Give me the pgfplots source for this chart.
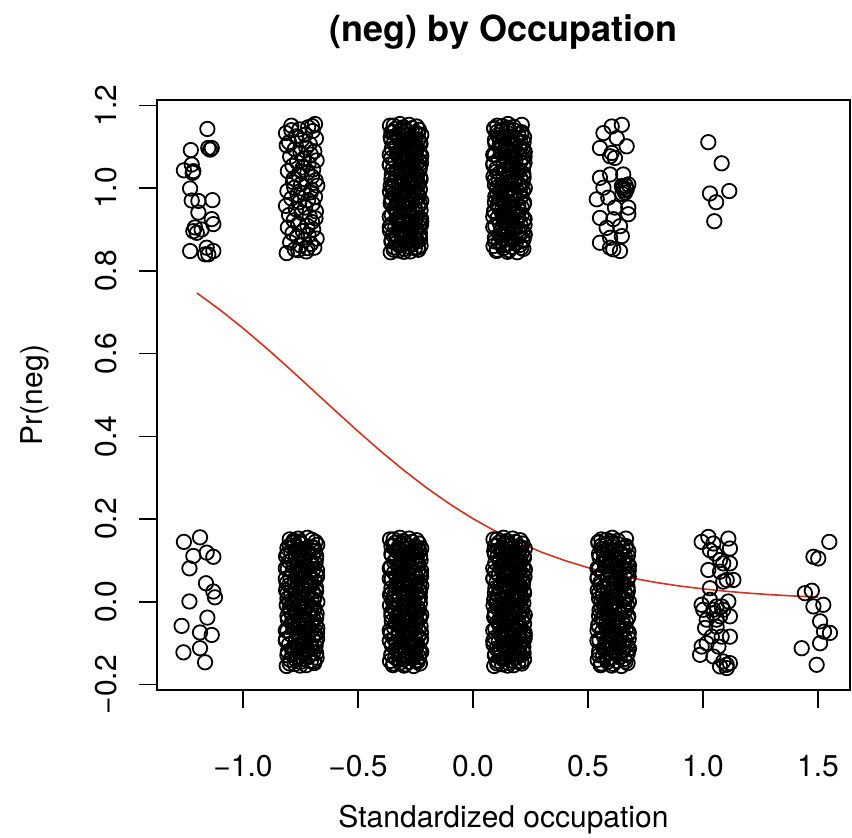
\documentclass[border=0pt]{standalone}
\usepackage{fontspec}
\setmainfont{TeX Gyre Heros}
\usepackage{pgfplots}
\pgfplotsset{compat=1.18}
\definecolor{fitred}{RGB}{208,52,32}
\begin{document}
\begin{tikzpicture}
\begin{axis}[
  scale only axis, width=346.5pt, height=295pt,
  xmin=-1.374, xmax=1.639, ymin=-0.213, ymax=1.213,
  clip=false,
  axis line style={line width=0.75pt, black},
  tick style={line width=0.75pt, black},
  tick align=outside, major tick length=9pt,
  xtick pos=lower, ytick pos=left,
  xtick={-1,-0.5,0,0.5,1,1.5},
  xticklabels={−1.0,−0.5,0.0,0.5,1.0,1.5},
  ytick={-0.2,0,0.2,0.4,0.6,0.8,1.0,1.2},
  yticklabels={−0.2,0.0,0.2,0.4,0.6,0.8,1.0,1.2},
  tick label style={font=\fontsize{15}{18}\selectfont},
  xticklabel style={anchor=base},
  xticklabel shift=34pt,
  yticklabel style={rotate=90, anchor=base},
  yticklabel shift=11pt,
  label style={font=\fontsize{15}{18}\selectfont},
  xlabel={Standardized occupation},
  ylabel={Pr(neg)},
  xlabel style={at={(axis description cs:0.5,-0.2203)}, anchor=center},
  ylabel style={at={(axis description cs:-0.176,0.5)}, anchor=center},
  title={(neg) by Occupation},
  title style={at={(axis description cs:0.5,1.122)}, anchor=center, yshift=-8pt, font=\bfseries\fontsize{18}{21}\selectfont},
  pts/.style={only marks, mark=o, mark size=3.6pt, line width=0.9pt, black},
]
% column A top
\addplot[pts] coordinates {(-1.155,1.143)(-1.227,1.092)(-1.151,1.097)(-1.136,1.097)(-1.143,1.093)(-1.257,1.043)(-1.223,1.057)(-1.216,1.041)(-1.219,1.037)(-1.230,0.999)(-1.223,0.970)(-1.194,0.969)(-1.133,0.971)(-1.194,0.941)(-1.136,0.925)(-1.129,0.913)(-1.209,0.905)(-1.216,0.896)(-1.201,0.892)(-1.180,0.900)(-1.230,0.848)(-1.158,0.856)(-1.129,0.848)(-1.151,0.840)(-1.165,0.840)};
% column A bottom
\addplot[pts] coordinates {(-1.257,0.145)(-1.187,0.156)(-1.216,0.111)(-1.158,0.119)(-1.129,0.109)(-1.233,0.081)(-1.161,0.045)(-1.129,0.025)(-1.122,0.011)(-1.233,0.001)(-1.155,-0.038)(-1.267,-0.058)(-1.187,-0.074)(-1.136,-0.080)(-1.259,-0.122)(-1.187,-0.112)(-1.165,-0.146)};
% column B top
\addplot[pts] coordinates {(-0.810,0.843)(-0.725,0.847)(-0.775,0.852)(-0.690,0.856)(-0.750,0.861)(-0.705,0.865)(-0.795,0.869)(-0.735,0.874)(-0.680,0.878)(-0.765,0.883)(-0.715,0.887)(-0.785,0.891)(-0.740,0.896)(-0.695,0.900)(-0.805,0.905)(-0.720,0.909)(-0.760,0.913)(-0.700,0.918)(-0.780,0.922)(-0.685,0.927)
(-0.710,0.931)(-0.800,0.935)(-0.745,0.940)(-0.683,0.944)(-0.770,0.949)(-0.730,0.953)(-0.813,0.957)(-0.697,0.962)(-0.755,0.966)(-0.717,0.971)(-0.790,0.975)(-0.687,0.979)(-0.763,0.984)(-0.737,0.988)(-0.807,0.993)(-0.703,0.997)(-0.777,1.001)(-0.677,1.006)(-0.747,1.010)(-0.783,1.015)
(-0.685,1.019)(-0.780,1.023)(-0.700,1.028)(-0.760,1.032)(-0.720,1.037)(-0.805,1.041)(-0.695,1.045)(-0.740,1.050)(-0.785,1.054)(-0.715,1.059)(-0.765,1.063)(-0.680,1.067)(-0.735,1.072)(-0.795,1.076)(-0.705,1.081)(-0.750,1.085)(-0.690,1.089)(-0.775,1.094)(-0.725,1.098)(-0.810,1.103)
(-0.710,1.107)(-0.800,1.111)(-0.745,1.116)(-0.683,1.120)(-0.770,1.125)(-0.730,1.129)(-0.813,1.133)(-0.697,1.138)(-0.755,1.142)(-0.717,1.147)(-0.790,1.151)(-0.687,1.155)
(-0.700,1.150)(-0.760,0.850)(-0.720,0.855)(-0.790,1.140)(-0.705,0.990)(-0.745,1.040)};
% column B bottom
\addplot[pts] coordinates {(-0.810,-0.155)(-0.725,-0.153)(-0.775,-0.150)(-0.690,-0.148)(-0.750,-0.145)(-0.705,-0.143)(-0.795,-0.140)(-0.735,-0.138)(-0.680,-0.135)(-0.765,-0.133)(-0.715,-0.130)(-0.785,-0.128)(-0.740,-0.125)(-0.695,-0.123)(-0.805,-0.120)(-0.720,-0.118)(-0.760,-0.115)(-0.700,-0.113)(-0.780,-0.110)(-0.685,-0.108)
(-0.710,-0.105)(-0.800,-0.103)(-0.745,-0.100)(-0.683,-0.098)(-0.770,-0.095)(-0.730,-0.093)(-0.813,-0.090)(-0.697,-0.088)(-0.755,-0.085)(-0.717,-0.083)(-0.790,-0.080)(-0.687,-0.078)(-0.763,-0.075)(-0.737,-0.073)(-0.807,-0.070)(-0.703,-0.068)(-0.777,-0.065)(-0.677,-0.063)(-0.747,-0.060)(-0.783,-0.058)
(-0.685,-0.055)(-0.780,-0.053)(-0.700,-0.050)(-0.760,-0.048)(-0.720,-0.045)(-0.805,-0.043)(-0.695,-0.040)(-0.740,-0.038)(-0.785,-0.035)(-0.715,-0.033)(-0.765,-0.030)(-0.680,-0.028)(-0.735,-0.025)(-0.795,-0.023)(-0.705,-0.020)(-0.750,-0.018)(-0.690,-0.015)(-0.775,-0.013)(-0.725,-0.010)(-0.810,-0.008)
(-0.783,-0.005)(-0.747,-0.003)(-0.677,0.000)(-0.777,0.003)(-0.703,0.005)(-0.807,0.008)(-0.737,0.010)(-0.763,0.013)(-0.687,0.015)(-0.790,0.018)(-0.717,0.020)(-0.755,0.023)(-0.697,0.025)(-0.813,0.028)(-0.730,0.030)(-0.770,0.033)(-0.683,0.035)(-0.745,0.038)(-0.800,0.040)(-0.710,0.043)
(-0.810,0.045)(-0.725,0.048)(-0.775,0.050)(-0.690,0.053)(-0.750,0.055)(-0.705,0.058)(-0.795,0.060)(-0.735,0.063)(-0.680,0.065)(-0.765,0.068)(-0.715,0.070)(-0.785,0.073)(-0.740,0.075)(-0.695,0.078)(-0.805,0.080)(-0.720,0.083)(-0.760,0.085)(-0.700,0.088)(-0.780,0.090)(-0.685,0.093)
(-0.710,0.095)(-0.800,0.098)(-0.745,0.100)(-0.683,0.103)(-0.770,0.105)(-0.730,0.108)(-0.813,0.110)(-0.697,0.113)(-0.755,0.115)(-0.717,0.118)(-0.790,0.120)(-0.687,0.123)(-0.763,0.125)(-0.737,0.128)(-0.807,0.130)(-0.703,0.133)(-0.777,0.135)(-0.677,0.138)(-0.747,0.140)(-0.783,0.143)
(-0.685,0.145)(-0.780,0.148)(-0.700,0.150)(-0.760,0.153)(-0.720,0.155)};
\addplot[pts] coordinates {(-0.752,-0.154)(-0.797,-0.149)(-0.692,-0.144)(-0.772,-0.139)(-0.717,-0.134)(-0.807,-0.129)(-0.682,-0.124)(-0.742,-0.119)(-0.787,-0.114)(-0.702,-0.109)(-0.762,-0.104)(-0.727,-0.099)(-0.814,-0.094)(-0.678,-0.089)(-0.757,-0.084)
(-0.757,-0.079)(-0.678,-0.074)(-0.814,-0.069)(-0.727,-0.064)(-0.762,-0.059)(-0.702,-0.054)(-0.787,-0.049)(-0.742,-0.044)(-0.682,-0.039)(-0.807,-0.034)(-0.717,-0.029)(-0.772,-0.024)(-0.692,-0.019)(-0.797,-0.014)(-0.752,-0.009)
(-0.752,-0.004)(-0.797,0.001)(-0.692,0.006)(-0.772,0.011)(-0.717,0.016)(-0.807,0.021)(-0.682,0.026)(-0.742,0.031)(-0.787,0.036)(-0.702,0.041)(-0.762,0.046)(-0.727,0.051)(-0.814,0.056)(-0.678,0.061)(-0.757,0.066)
(-0.757,0.071)(-0.678,0.076)(-0.814,0.081)(-0.727,0.086)(-0.762,0.091)(-0.702,0.096)(-0.787,0.101)(-0.742,0.106)(-0.682,0.111)(-0.807,0.116)(-0.717,0.121)(-0.772,0.126)(-0.692,0.131)(-0.797,0.136)(-0.752,0.141)
(-0.752,0.146)(-0.797,0.151)};
% column C top
\addplot[pts] coordinates {(-0.358,0.845)(-0.273,0.847)(-0.323,0.849)(-0.238,0.851)(-0.298,0.853)(-0.253,0.855)(-0.343,0.857)(-0.283,0.859)(-0.228,0.861)(-0.313,0.863)(-0.263,0.865)(-0.333,0.867)(-0.288,0.869)(-0.243,0.871)(-0.353,0.873)(-0.268,0.875)(-0.308,0.877)(-0.248,0.879)(-0.328,0.881)(-0.233,0.883)
(-0.258,0.885)(-0.348,0.887)(-0.293,0.889)(-0.231,0.891)(-0.318,0.893)(-0.278,0.895)(-0.361,0.897)(-0.245,0.899)(-0.303,0.901)(-0.265,0.903)(-0.338,0.905)(-0.235,0.907)(-0.311,0.909)(-0.285,0.911)(-0.355,0.913)(-0.251,0.915)(-0.325,0.917)(-0.225,0.919)(-0.295,0.921)(-0.331,0.923)
(-0.233,0.925)(-0.328,0.927)(-0.248,0.929)(-0.308,0.931)(-0.268,0.933)(-0.353,0.935)(-0.243,0.937)(-0.288,0.939)(-0.333,0.941)(-0.263,0.943)(-0.313,0.945)(-0.228,0.947)(-0.283,0.949)(-0.343,0.951)(-0.253,0.953)(-0.298,0.955)(-0.238,0.957)(-0.323,0.959)(-0.273,0.961)(-0.358,0.963)
(-0.331,0.965)(-0.295,0.967)(-0.225,0.969)(-0.325,0.971)(-0.251,0.973)(-0.355,0.975)(-0.285,0.977)(-0.311,0.979)(-0.235,0.981)(-0.338,0.983)(-0.265,0.985)(-0.303,0.987)(-0.245,0.989)(-0.361,0.991)(-0.278,0.993)(-0.318,0.995)(-0.231,0.997)(-0.293,0.999)(-0.348,1.001)(-0.258,1.003)
(-0.358,1.005)(-0.273,1.007)(-0.323,1.009)(-0.238,1.011)(-0.298,1.013)(-0.253,1.015)(-0.343,1.017)(-0.283,1.019)(-0.228,1.021)(-0.313,1.023)(-0.263,1.025)(-0.333,1.027)(-0.288,1.029)(-0.243,1.031)(-0.353,1.033)(-0.268,1.035)(-0.308,1.037)(-0.248,1.039)(-0.328,1.041)(-0.233,1.043)
(-0.258,1.045)(-0.348,1.047)(-0.293,1.049)(-0.231,1.051)(-0.318,1.053)(-0.278,1.055)(-0.361,1.057)(-0.245,1.059)(-0.303,1.061)(-0.265,1.063)(-0.338,1.065)(-0.235,1.067)(-0.311,1.069)(-0.285,1.071)(-0.355,1.073)(-0.251,1.075)(-0.325,1.077)(-0.225,1.079)(-0.295,1.081)(-0.331,1.083)
(-0.233,1.085)(-0.328,1.087)(-0.248,1.089)(-0.308,1.091)(-0.268,1.093)(-0.353,1.095)(-0.243,1.097)(-0.288,1.099)(-0.333,1.101)(-0.263,1.103)(-0.313,1.105)(-0.228,1.107)(-0.283,1.109)(-0.343,1.111)(-0.253,1.113)(-0.298,1.115)(-0.238,1.117)(-0.323,1.119)(-0.273,1.121)(-0.358,1.123)
(-0.331,1.125)(-0.295,1.127)(-0.225,1.129)(-0.325,1.131)(-0.251,1.133)(-0.355,1.135)(-0.285,1.137)(-0.311,1.139)(-0.235,1.141)(-0.338,1.143)(-0.265,1.145)(-0.303,1.147)(-0.245,1.149)(-0.361,1.151)(-0.278,1.153)(-0.318,1.155)};
\addplot[pts] coordinates {(-0.300,0.846)(-0.345,0.851)(-0.240,0.856)(-0.320,0.861)(-0.265,0.866)(-0.355,0.871)(-0.230,0.876)(-0.290,0.881)(-0.335,0.886)(-0.250,0.891)(-0.310,0.896)(-0.275,0.901)(-0.362,0.906)(-0.226,0.911)(-0.305,0.916)
(-0.305,0.921)(-0.226,0.926)(-0.362,0.931)(-0.275,0.936)(-0.310,0.941)(-0.250,0.946)(-0.335,0.951)(-0.290,0.956)(-0.230,0.961)(-0.355,0.966)(-0.265,0.971)(-0.320,0.976)(-0.240,0.981)(-0.345,0.986)(-0.300,0.991)
(-0.300,0.996)(-0.345,1.001)(-0.240,1.006)(-0.320,1.011)(-0.265,1.016)(-0.355,1.021)(-0.230,1.026)(-0.290,1.031)(-0.335,1.036)(-0.250,1.041)(-0.310,1.046)(-0.275,1.051)(-0.362,1.056)(-0.226,1.061)(-0.305,1.066)
(-0.305,1.071)(-0.226,1.076)(-0.362,1.081)(-0.275,1.086)(-0.310,1.091)(-0.250,1.096)(-0.335,1.101)(-0.290,1.106)(-0.230,1.111)(-0.355,1.116)(-0.265,1.121)(-0.320,1.126)(-0.240,1.131)(-0.345,1.136)(-0.300,1.141)
(-0.300,1.146)(-0.345,1.151)};
% column C bottom
\addplot[pts] coordinates {(-0.258,-0.155)(-0.348,-0.153)(-0.293,-0.151)(-0.231,-0.149)(-0.318,-0.147)(-0.278,-0.145)(-0.361,-0.143)(-0.245,-0.141)(-0.303,-0.139)(-0.265,-0.137)(-0.338,-0.135)(-0.235,-0.133)(-0.311,-0.131)(-0.285,-0.129)(-0.355,-0.127)(-0.251,-0.125)(-0.325,-0.123)(-0.225,-0.121)(-0.295,-0.119)(-0.331,-0.117)
(-0.233,-0.115)(-0.328,-0.113)(-0.248,-0.111)(-0.308,-0.109)(-0.268,-0.107)(-0.353,-0.105)(-0.243,-0.103)(-0.288,-0.101)(-0.333,-0.099)(-0.263,-0.097)(-0.313,-0.095)(-0.228,-0.093)(-0.283,-0.091)(-0.343,-0.089)(-0.253,-0.087)(-0.298,-0.085)(-0.238,-0.083)(-0.323,-0.081)(-0.273,-0.079)(-0.358,-0.077)
(-0.358,-0.075)(-0.273,-0.073)(-0.323,-0.071)(-0.238,-0.069)(-0.298,-0.067)(-0.253,-0.065)(-0.343,-0.063)(-0.283,-0.061)(-0.228,-0.059)(-0.313,-0.057)(-0.263,-0.055)(-0.333,-0.053)(-0.288,-0.051)(-0.243,-0.049)(-0.353,-0.047)(-0.268,-0.045)(-0.308,-0.043)(-0.248,-0.041)(-0.328,-0.039)(-0.233,-0.037)
(-0.331,-0.035)(-0.295,-0.033)(-0.225,-0.031)(-0.325,-0.029)(-0.251,-0.027)(-0.355,-0.025)(-0.285,-0.023)(-0.311,-0.021)(-0.235,-0.019)(-0.338,-0.017)(-0.265,-0.015)(-0.303,-0.013)(-0.245,-0.011)(-0.361,-0.009)(-0.278,-0.007)(-0.318,-0.005)(-0.231,-0.003)(-0.293,-0.001)(-0.348,0.001)(-0.258,0.003)
(-0.258,0.005)(-0.348,0.007)(-0.293,0.009)(-0.231,0.011)(-0.318,0.013)(-0.278,0.015)(-0.361,0.017)(-0.245,0.019)(-0.303,0.021)(-0.265,0.023)(-0.338,0.025)(-0.235,0.027)(-0.311,0.029)(-0.285,0.031)(-0.355,0.033)(-0.251,0.035)(-0.325,0.037)(-0.225,0.039)(-0.295,0.041)(-0.331,0.043)
(-0.233,0.045)(-0.328,0.047)(-0.248,0.049)(-0.308,0.051)(-0.268,0.053)(-0.353,0.055)(-0.243,0.057)(-0.288,0.059)(-0.333,0.061)(-0.263,0.063)(-0.313,0.065)(-0.228,0.067)(-0.283,0.069)(-0.343,0.071)(-0.253,0.073)(-0.298,0.075)(-0.238,0.077)(-0.323,0.079)(-0.273,0.081)(-0.358,0.083)
(-0.358,0.085)(-0.273,0.087)(-0.323,0.089)(-0.238,0.091)(-0.298,0.093)(-0.253,0.095)(-0.343,0.097)(-0.283,0.099)(-0.228,0.101)(-0.313,0.103)(-0.263,0.105)(-0.333,0.107)(-0.288,0.109)(-0.243,0.111)(-0.353,0.113)(-0.268,0.115)(-0.308,0.117)(-0.248,0.119)(-0.328,0.121)(-0.233,0.123)
(-0.331,0.125)(-0.295,0.127)(-0.225,0.129)(-0.325,0.131)(-0.251,0.133)(-0.355,0.135)(-0.285,0.137)(-0.311,0.139)(-0.235,0.141)(-0.338,0.143)(-0.265,0.145)(-0.303,0.147)(-0.245,0.149)(-0.361,0.151)(-0.278,0.153)(-0.318,0.155)};
\addplot[pts] coordinates {(-0.300,-0.154)(-0.345,-0.149)(-0.240,-0.144)(-0.320,-0.139)(-0.265,-0.134)(-0.355,-0.129)(-0.230,-0.124)(-0.290,-0.119)(-0.335,-0.114)(-0.250,-0.109)(-0.310,-0.104)(-0.275,-0.099)(-0.362,-0.094)(-0.226,-0.089)(-0.305,-0.084)
(-0.305,-0.079)(-0.226,-0.074)(-0.362,-0.069)(-0.275,-0.064)(-0.310,-0.059)(-0.250,-0.054)(-0.335,-0.049)(-0.290,-0.044)(-0.230,-0.039)(-0.355,-0.034)(-0.265,-0.029)(-0.320,-0.024)(-0.240,-0.019)(-0.345,-0.014)(-0.300,-0.009)
(-0.300,-0.004)(-0.345,0.001)(-0.240,0.006)(-0.320,0.011)(-0.265,0.016)(-0.355,0.021)(-0.230,0.026)(-0.290,0.031)(-0.335,0.036)(-0.250,0.041)(-0.310,0.046)(-0.275,0.051)(-0.362,0.056)(-0.226,0.061)(-0.305,0.066)
(-0.305,0.071)(-0.226,0.076)(-0.362,0.081)(-0.275,0.086)(-0.310,0.091)(-0.250,0.096)(-0.335,0.101)(-0.290,0.106)(-0.230,0.111)(-0.355,0.116)(-0.265,0.121)(-0.320,0.126)(-0.240,0.131)(-0.345,0.136)(-0.300,0.141)
(-0.300,0.146)(-0.345,0.151)};
% column D top
\addplot[pts] coordinates {(0.192,0.845)(0.102,0.848)(0.157,0.850)(0.219,0.853)(0.132,0.855)(0.172,0.858)(0.089,0.860)(0.205,0.863)(0.147,0.865)(0.185,0.868)(0.112,0.870)(0.215,0.873)(0.139,0.875)(0.165,0.878)(0.095,0.880)(0.199,0.883)(0.125,0.885)(0.225,0.888)(0.155,0.890)(0.119,0.893)
(0.217,0.895)(0.122,0.898)(0.202,0.900)(0.142,0.903)(0.182,0.905)(0.097,0.908)(0.207,0.910)(0.162,0.913)(0.117,0.915)(0.187,0.918)(0.137,0.920)(0.222,0.923)(0.167,0.925)(0.107,0.928)(0.197,0.930)(0.152,0.933)(0.212,0.935)(0.127,0.938)(0.177,0.940)(0.092,0.943)
(0.092,0.945)(0.177,0.948)(0.127,0.950)(0.212,0.953)(0.152,0.955)(0.197,0.958)(0.107,0.960)(0.167,0.963)(0.222,0.965)(0.137,0.968)(0.187,0.970)(0.117,0.973)(0.162,0.975)(0.207,0.978)(0.097,0.980)(0.182,0.983)(0.142,0.985)(0.202,0.988)(0.122,0.990)(0.217,0.993)
(0.119,0.995)(0.155,0.998)(0.225,1.000)(0.125,1.003)(0.199,1.005)(0.095,1.008)(0.165,1.010)(0.139,1.013)(0.215,1.015)(0.112,1.018)(0.185,1.020)(0.147,1.023)(0.205,1.025)(0.089,1.028)(0.172,1.030)(0.132,1.033)(0.219,1.035)(0.157,1.038)(0.102,1.040)(0.192,1.043)
(0.192,1.045)(0.102,1.048)(0.157,1.050)(0.219,1.053)(0.132,1.055)(0.172,1.058)(0.089,1.060)(0.205,1.063)(0.147,1.065)(0.185,1.068)(0.112,1.070)(0.215,1.073)(0.139,1.075)(0.165,1.078)(0.095,1.080)(0.199,1.083)(0.125,1.085)(0.225,1.088)(0.155,1.090)(0.119,1.093)
(0.217,1.095)(0.122,1.098)(0.202,1.100)(0.142,1.103)(0.182,1.105)(0.097,1.108)(0.207,1.110)(0.162,1.113)(0.117,1.115)(0.187,1.118)(0.137,1.120)(0.222,1.123)(0.167,1.125)(0.107,1.128)(0.197,1.130)(0.152,1.133)(0.212,1.135)(0.127,1.138)(0.177,1.140)(0.092,1.143)
(0.092,1.145)(0.177,1.148)(0.127,1.150)(0.212,1.153)(0.152,1.155)};
\addplot[pts] coordinates {(0.150,0.846)(0.105,0.851)(0.210,0.856)(0.130,0.861)(0.185,0.866)(0.095,0.871)(0.220,0.876)(0.160,0.881)(0.115,0.886)(0.200,0.891)(0.140,0.896)(0.175,0.901)(0.088,0.906)(0.224,0.911)(0.145,0.916)
(0.145,0.921)(0.224,0.926)(0.088,0.931)(0.175,0.936)(0.140,0.941)(0.200,0.946)(0.115,0.951)(0.160,0.956)(0.220,0.961)(0.095,0.966)(0.185,0.971)(0.130,0.976)(0.210,0.981)(0.105,0.986)(0.150,0.991)
(0.150,0.996)(0.105,1.001)(0.210,1.006)(0.130,1.011)(0.185,1.016)(0.095,1.021)(0.220,1.026)(0.160,1.031)(0.115,1.036)(0.200,1.041)(0.140,1.046)(0.175,1.051)(0.088,1.056)(0.224,1.061)(0.145,1.066)
(0.145,1.071)(0.224,1.076)(0.088,1.081)(0.175,1.086)(0.140,1.091)(0.200,1.096)(0.115,1.101)(0.160,1.106)(0.220,1.111)(0.095,1.116)(0.185,1.121)(0.130,1.126)(0.210,1.131)(0.105,1.136)(0.150,1.141)
(0.150,1.146)(0.105,1.151)};
% column D bottom
\addplot[pts] coordinates {(0.092,-0.155)(0.177,-0.153)(0.127,-0.151)(0.212,-0.149)(0.152,-0.147)(0.197,-0.145)(0.107,-0.143)(0.167,-0.141)(0.222,-0.139)(0.137,-0.137)(0.187,-0.135)(0.117,-0.133)(0.162,-0.131)(0.207,-0.129)(0.097,-0.127)(0.182,-0.125)(0.142,-0.123)(0.202,-0.121)(0.122,-0.119)(0.217,-0.117)
(0.192,-0.115)(0.102,-0.113)(0.157,-0.111)(0.219,-0.109)(0.132,-0.107)(0.172,-0.105)(0.089,-0.103)(0.205,-0.101)(0.147,-0.099)(0.185,-0.097)(0.112,-0.095)(0.215,-0.093)(0.139,-0.091)(0.165,-0.089)(0.095,-0.087)(0.199,-0.085)(0.125,-0.083)(0.225,-0.081)(0.155,-0.079)(0.119,-0.077)
(0.217,-0.075)(0.122,-0.073)(0.202,-0.071)(0.142,-0.069)(0.182,-0.067)(0.097,-0.065)(0.207,-0.063)(0.162,-0.061)(0.117,-0.059)(0.187,-0.057)(0.137,-0.055)(0.222,-0.053)(0.167,-0.051)(0.107,-0.049)(0.197,-0.047)(0.152,-0.045)(0.212,-0.043)(0.127,-0.041)(0.177,-0.039)(0.092,-0.037)
(0.119,-0.035)(0.155,-0.033)(0.225,-0.031)(0.125,-0.029)(0.199,-0.027)(0.095,-0.025)(0.165,-0.023)(0.139,-0.021)(0.215,-0.019)(0.112,-0.017)(0.185,-0.015)(0.147,-0.013)(0.205,-0.011)(0.089,-0.009)(0.172,-0.007)(0.132,-0.005)(0.219,-0.003)(0.157,-0.001)(0.102,0.001)(0.192,0.003)
(0.092,0.005)(0.177,0.007)(0.127,0.009)(0.212,0.011)(0.152,0.013)(0.197,0.015)(0.107,0.017)(0.167,0.019)(0.222,0.021)(0.137,0.023)(0.187,0.025)(0.117,0.027)(0.162,0.029)(0.207,0.031)(0.097,0.033)(0.182,0.035)(0.142,0.037)(0.202,0.039)(0.122,0.041)(0.217,0.043)
(0.192,0.045)(0.102,0.047)(0.157,0.049)(0.219,0.051)(0.132,0.053)(0.172,0.055)(0.089,0.057)(0.205,0.059)(0.147,0.061)(0.185,0.063)(0.112,0.065)(0.215,0.067)(0.139,0.069)(0.165,0.071)(0.095,0.073)(0.199,0.075)(0.125,0.077)(0.225,0.079)(0.155,0.081)(0.119,0.083)
(0.217,0.085)(0.122,0.087)(0.202,0.089)(0.142,0.091)(0.182,0.093)(0.097,0.095)(0.207,0.097)(0.162,0.099)(0.117,0.101)(0.187,0.103)(0.137,0.105)(0.222,0.107)(0.167,0.109)(0.107,0.111)(0.197,0.113)(0.152,0.115)(0.212,0.117)(0.127,0.119)(0.177,0.121)(0.092,0.123)
(0.119,0.125)(0.155,0.127)(0.225,0.129)(0.125,0.131)(0.199,0.133)(0.095,0.135)(0.165,0.137)(0.139,0.139)(0.215,0.141)(0.112,0.143)(0.185,0.145)(0.147,0.147)(0.205,0.149)(0.089,0.151)(0.172,0.153)(0.132,0.155)};
\addplot[pts] coordinates {(0.150,-0.154)(0.105,-0.149)(0.210,-0.144)(0.130,-0.139)(0.185,-0.134)(0.095,-0.129)(0.220,-0.124)(0.160,-0.119)(0.115,-0.114)(0.200,-0.109)(0.140,-0.104)(0.175,-0.099)(0.088,-0.094)(0.224,-0.089)(0.145,-0.084)
(0.145,-0.079)(0.224,-0.074)(0.088,-0.069)(0.175,-0.064)(0.140,-0.059)(0.200,-0.054)(0.115,-0.049)(0.160,-0.044)(0.220,-0.039)(0.095,-0.034)(0.185,-0.029)(0.130,-0.024)(0.210,-0.019)(0.105,-0.014)(0.150,-0.009)
(0.150,-0.004)(0.105,0.001)(0.210,0.006)(0.130,0.011)(0.185,0.016)(0.095,0.021)(0.220,0.026)(0.160,0.031)(0.115,0.036)(0.200,0.041)(0.140,0.046)(0.175,0.051)(0.088,0.056)(0.224,0.061)(0.145,0.066)
(0.145,0.071)(0.224,0.076)(0.088,0.081)(0.175,0.086)(0.140,0.091)(0.200,0.096)(0.115,0.101)(0.160,0.106)(0.220,0.111)(0.095,0.116)(0.185,0.121)(0.130,0.126)(0.210,0.131)(0.105,0.136)(0.150,0.141)
(0.150,0.146)(0.105,0.151)};
% column E top
\addplot[pts] coordinates {(0.567,1.133)(0.603,1.149)(0.647,1.153)(0.625,1.121)(0.552,1.097)(0.668,1.101)(0.603,1.085)(0.617,1.073)(0.596,1.077)(0.552,1.025)(0.596,1.033)(0.653,1.033)(0.653,1.001)(0.668,0.997)(0.661,0.989)(0.647,1.005)(0.675,1.009)(0.567,1.001)(0.538,0.973)(0.588,0.977)(0.617,0.953)(0.675,0.953)(0.552,0.928)(0.610,0.925)(0.675,0.937)(0.639,0.908)(0.581,0.904)(0.596,0.880)(0.647,0.884)(0.552,0.868)(0.596,0.856)(0.639,0.848)(0.610,0.852)(0.651,1.000)(0.657,0.994)(0.649,0.986)(0.664,1.006)};
% column E bottom
\addplot[pts] coordinates {(0.645,-0.155)(0.555,-0.153)(0.610,-0.150)(0.672,-0.148)(0.585,-0.145)(0.625,-0.143)(0.542,-0.140)(0.658,-0.138)(0.600,-0.135)(0.638,-0.133)(0.565,-0.130)(0.668,-0.128)(0.592,-0.125)(0.618,-0.123)(0.548,-0.120)(0.652,-0.118)(0.578,-0.115)(0.678,-0.113)(0.608,-0.110)(0.572,-0.108)
(0.670,-0.105)(0.575,-0.103)(0.655,-0.100)(0.595,-0.098)(0.635,-0.095)(0.550,-0.093)(0.660,-0.090)(0.615,-0.088)(0.570,-0.085)(0.640,-0.083)(0.590,-0.080)(0.675,-0.078)(0.620,-0.075)(0.560,-0.073)(0.650,-0.070)(0.605,-0.068)(0.665,-0.065)(0.580,-0.063)(0.630,-0.060)(0.545,-0.058)
(0.545,-0.055)(0.630,-0.053)(0.580,-0.050)(0.665,-0.048)(0.605,-0.045)(0.650,-0.043)(0.560,-0.040)(0.620,-0.038)(0.675,-0.035)(0.590,-0.033)(0.640,-0.030)(0.570,-0.028)(0.615,-0.025)(0.660,-0.023)(0.550,-0.020)(0.635,-0.018)(0.595,-0.015)(0.655,-0.013)(0.575,-0.010)(0.670,-0.008)
(0.572,-0.005)(0.608,-0.003)(0.678,0.000)(0.578,0.003)(0.652,0.005)(0.548,0.008)(0.618,0.010)(0.592,0.013)(0.668,0.015)(0.565,0.018)(0.638,0.020)(0.600,0.023)(0.658,0.025)(0.542,0.028)(0.625,0.030)(0.585,0.033)(0.672,0.035)(0.610,0.038)(0.555,0.040)(0.645,0.043)
(0.645,0.045)(0.555,0.048)(0.610,0.050)(0.672,0.053)(0.585,0.055)(0.625,0.058)(0.542,0.060)(0.658,0.063)(0.600,0.065)(0.638,0.068)(0.565,0.070)(0.668,0.073)(0.592,0.075)(0.618,0.078)(0.548,0.080)(0.652,0.083)(0.578,0.085)(0.678,0.088)(0.608,0.090)(0.572,0.093)
(0.670,0.095)(0.575,0.098)(0.655,0.100)(0.595,0.103)(0.635,0.105)(0.550,0.108)(0.660,0.110)(0.615,0.113)(0.570,0.115)(0.640,0.118)(0.590,0.120)(0.675,0.123)(0.620,0.125)(0.560,0.128)(0.650,0.130)(0.605,0.133)(0.665,0.135)(0.580,0.138)(0.630,0.140)(0.545,0.143)
(0.545,0.145)(0.630,0.148)(0.580,0.150)(0.665,0.153)(0.605,0.155)};
\addplot[pts] coordinates {(0.603,-0.154)(0.558,-0.149)(0.663,-0.144)(0.583,-0.139)(0.638,-0.134)(0.548,-0.129)(0.673,-0.124)(0.613,-0.119)(0.568,-0.114)(0.653,-0.109)(0.593,-0.104)(0.628,-0.099)(0.541,-0.094)(0.677,-0.089)(0.598,-0.084)
(0.598,-0.079)(0.677,-0.074)(0.541,-0.069)(0.628,-0.064)(0.593,-0.059)(0.653,-0.054)(0.568,-0.049)(0.613,-0.044)(0.673,-0.039)(0.548,-0.034)(0.638,-0.029)(0.583,-0.024)(0.663,-0.019)(0.558,-0.014)(0.603,-0.009)
(0.603,-0.004)(0.558,0.001)(0.663,0.006)(0.583,0.011)(0.638,0.016)(0.548,0.021)(0.673,0.026)(0.613,0.031)(0.568,0.036)(0.653,0.041)(0.593,0.046)(0.628,0.051)(0.541,0.056)(0.677,0.061)(0.598,0.066)
(0.598,0.071)(0.677,0.076)(0.541,0.081)(0.628,0.086)(0.593,0.091)(0.653,0.096)(0.568,0.101)(0.613,0.106)(0.673,0.111)(0.548,0.116)(0.638,0.121)(0.583,0.126)(0.663,0.131)(0.558,0.136)(0.603,0.141)
(0.603,0.146)(0.558,0.151)};
% column F top
\addplot[pts] coordinates {(1.023,1.111)(1.081,1.060)(1.030,0.987)(1.114,0.993)(1.057,0.966)(1.049,0.920)};
% column F bottom
\addplot[pts] coordinates {(0.994,0.145)(1.023,0.157)(1.045,0.141)(1.110,0.153)(1.117,0.129)(1.030,0.125)(1.052,0.117)(1.074,0.101)(1.088,0.093)(1.117,0.093)(1.023,0.077)(1.074,0.073)(1.103,0.053)(1.132,0.053)(1.088,0.049)(1.030,0.033)(0.994,-0.007)(1.030,0.005)(1.059,-0.011)(1.088,-0.019)(1.110,0.001)(1.045,-0.027)(1.074,-0.035)(1.117,-0.035)(1.016,-0.043)(1.009,-0.063)(1.059,-0.060)(1.117,-0.084)(1.038,-0.084)(1.081,-0.084)(0.994,-0.108)(1.016,-0.100)(1.067,-0.108)(0.987,-0.128)(1.045,-0.132)(1.088,-0.144)(1.103,-0.152)(1.117,-0.148)(1.074,-0.156)(1.103,-0.160)(1.045,-0.019)(1.081,-0.011)(1.059,-0.043)(1.001,-0.019)};
% column G bottom
\addplot[pts] coordinates {(1.549,0.145)(1.480,0.109)(1.501,0.105)(1.443,0.021)(1.473,0.027)(1.480,-0.011)(1.523,-0.007)(1.509,-0.047)(1.526,-0.072)(1.552,-0.075)(1.509,-0.100)(1.429,-0.112)(1.494,-0.152)};
% fitted curve
\addplot[no marks, sharp plot, line width=0.8pt, fitred] coordinates {(-1.2,0.7465)(-1.1,0.7058)(-1.0,0.6615)(-0.9,0.6142)(-0.8,0.5646)(-0.7,0.5137)(-0.6,0.4626)(-0.5,0.4122)(-0.4,0.3635)(-0.3,0.3176)(-0.2,0.2749)(-0.1,0.2360)(0.0,0.2010)(0.1,0.1701)(0.2,0.1431)(0.3,0.1197)(0.4,0.0997)(0.5,0.0828)(0.6,0.0685)(0.7,0.0565)(0.8,0.0465)(0.9,0.0382)(1.0,0.0314)(1.1,0.0257)(1.2,0.0210)(1.3,0.0172)(1.4,0.0141)(1.5,0.0115)};
\end{axis}
\pgfresetboundingbox
\path ([shift={(-78.5pt,-73.5pt)}]current axis.south west) rectangle ([shift={(1pt,50pt)}]current axis.north east);
\end{tikzpicture}
\end{document}
